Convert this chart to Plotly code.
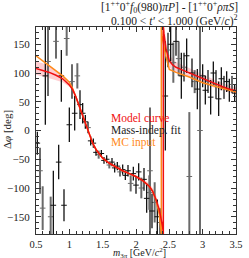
import plotly.graph_objects as go

# ---------------- data ----------------
# MC input curve
mc_m = [0.50, 0.60, 0.70, 0.80, 0.90, 1.00, 1.05, 1.10, 1.15, 1.20, 1.25, 1.30, 1.35, 1.40,
        1.50, 1.60, 1.70, 1.80, 1.90, 2.00, 2.10, 2.20, 2.25, 2.30, 2.35, 2.375, 2.38,
        2.38, 2.39, 2.45, 2.50, 2.60, 2.80, 3.00, 3.20, 3.50]
mc_v = [130, 121, 112, 104, 95, 84, 73, 58, 42, 25, 8, -8, -22, -33,
        -48, -57, -64, -70, -75, -80, -87, -97, -106, -121, -146, -170, -180,
        180, 165, 128, 106, 101, 93, 83, 77, 67]

# Model curve (two branches, wrapping at +-180)
mod_m1 = [0.50, 0.60, 0.70, 0.80, 0.90, 1.00, 1.05, 1.10, 1.15, 1.20, 1.25, 1.30, 1.35, 1.40,
          1.50, 1.60, 1.70, 1.80, 1.90, 2.00, 2.10, 2.20, 2.25, 2.30, 2.35, 2.38, 2.40, 2.41]
mod_v1 = [108, 105, 101, 96, 90, 79, 71, 58, 42, 25, 8, -8, -22, -33,
          -48, -57, -64, -70, -75, -80, -87, -97, -106, -120, -138, -153, -168, -180]
mod_lo1 = [97, 94, 91, 88, 84, 76, 69, 57, 41, 24, 7, -9, -23, -34,
           -49, -58, -65, -72, -77, -82, -90, -102, -112, -128, -148, -165, -182, -195]
mod_hi1 = [120, 117, 112, 105, 97, 83, 73, 59, 43, 26, 9, -7, -21, -32,
           -47, -56, -63, -68, -73, -78, -84, -92, -100, -112, -128, -141, -154, -165]

mod_m2 = [2.41, 2.42, 2.45, 2.48, 2.50, 2.55, 2.60, 2.70, 2.80, 2.90, 3.00, 3.10, 3.20, 3.30, 3.40, 3.50]
mod_v2 = [180, 168, 142, 127, 121, 114, 110, 105, 100, 95, 90, 85, 80, 76, 72, 69]
mod_lo2 = [165, 153, 129, 115, 110, 104, 101, 96, 92, 87, 82, 78, 73, 69, 66, 63]
mod_hi2 = [195, 183, 156, 139, 132, 124, 119, 114, 108, 103, 98, 92, 87, 83, 78, 75]

# Mass-independent fit points: mass, phase, error, shade (k = black, g = grey)
pt_m = [0.52, 0.56, 0.60, 0.64, 0.68, 0.72, 0.76, 0.80, 0.84, 0.88, 0.92, 0.96, 1.00, 1.04,
        1.08, 1.12, 1.16, 1.20, 1.24, 1.28, 1.32, 1.36, 1.40, 1.44, 1.48, 1.52, 1.56, 1.60,
        1.64, 1.68, 1.72, 1.76, 1.80, 1.84, 1.88, 1.92, 1.96, 2.00, 2.04, 2.08, 2.12, 2.16,
        2.20, 2.21, 2.24, 2.28, 2.32, 2.36, 2.44, 2.48, 2.52, 2.56, 2.60, 2.64, 2.68, 2.72,
        2.76, 2.80, 2.84, 2.88, 2.92, 2.96, 3.00, 3.04, 3.08, 3.12, 3.16, 3.20, 3.24, 3.28,
        3.32, 3.36, 3.40, 3.44, 3.48]
pt_v = [-22, -70, -135, 95, 120, -150, -130, 155, -55, 95, -130, 160, 10, 85,
        30, 95, 45, 30, 15, 5, -18, -22, -38, -42, -40, -52, -50, -60,
        -55, -65, -62, -72, -68, -78, -70, -92, -75, -95, -72, -100, -85, -118,
        -108, -70, -140, -125, -150, -160, 60, 140, 150, 118, 155, 125, 95, 110,
        130, -80, 100, 85, 72, 0, 95, 70, 85, 58, 100, 80, 55, 90,
        75, 85, 70, 80, 65]
pt_e = [20, 40, 38, 85, 60, 35, 60, 30, 30, 45, 28, 30, 30, 30,
        30, 22, 25, 18, 12, 10, 8, 8, 6, 7, 6, 6, 7, 6,
        7, 8, 7, 8, 9, 8, 10, 14, 12, 15, 15, 18, 20, 25,
        30, 110, 30, 35, 30, 25, 95, 30, 30, 35, 25, 30, 40, 25,
        30, 112, 25, 20, 35, 180, 20, 25, 20, 30, 20, 25, 30, 20,
        20, 18, 20, 15, 15]
pt_c = ["k", "g", "g", "k", "g", "g", "k", "g", "k", "k", "k", "g", "k", "g",
        "k", "g", "k", "k", "k", "g", "k", "k", "k", "g", "k", "k", "k", "g",
        "k", "k", "k", "g", "k", "k", "k", "g", "k", "k", "k", "g", "k", "k",
        "g", "g", "k", "g", "k", "g", "k", "g", "k", "g", "k", "g", "k", "g",
        "k", "g", "k", "g", "k", "g", "k", "k", "g", "k", "k", "g", "k", "k",
        "g", "k", "k", "g", "k"]

x_ticks = [0.5, 1, 1.5, 2, 2.5, 3, 3.5]
x_tick_text = ["0.5", "1", "1.5", "2", "2.5", "3", "3.5"]
y_ticks = [-150, -100, -50, 0, 50, 100, 150]
y_tick_text = ["\u2212150", "\u2212100", "\u221250", "0", "50", "100", "150"]

# ---------------- figure ----------------
RED = "#f01010"
ORANGE = "#ff8a1a"
SERIF = "Liberation Serif, DejaVu Serif, serif"

fig = go.Figure()

# model band (two branches)
fig.add_trace(go.Scatter(x=mod_m1 + mod_m1[::-1], y=mod_hi1 + mod_lo1[::-1], fill="toself",
                         fillcolor="rgba(255,80,90,0.28)", line=dict(width=0), mode="lines",
                         hoverinfo="skip", showlegend=False))
fig.add_trace(go.Scatter(x=mod_m2 + mod_m2[::-1], y=mod_hi2 + mod_lo2[::-1], fill="toself",
                         fillcolor="rgba(255,80,90,0.28)", line=dict(width=0), mode="lines",
                         hoverinfo="skip", showlegend=False))

# data points
for shade, col, lw in [("g", "#6a6a6a", 2.0), ("k", "#111111", 1.3)]:
    xs = [m for m, c in zip(pt_m, pt_c) if c == shade]
    ys = [v for v, c in zip(pt_v, pt_c) if c == shade]
    es = [e for e, c in zip(pt_e, pt_c) if c == shade]
    fig.add_trace(go.Scatter(x=xs, y=ys, mode="markers",
                             marker=dict(symbol="line-ew", size=4, color=col,
                                         line=dict(width=1, color=col)),
                             error_y=dict(type="data", array=es, visible=True, width=0,
                                          thickness=lw, color=col),
                             showlegend=False))

# MC input
fig.add_trace(go.Scatter(x=mc_m, y=mc_v, mode="lines",
                         line=dict(color=ORANGE, width=1.5), showlegend=False))
# Model curve
fig.add_trace(go.Scatter(x=mod_m1 + mod_m2, y=mod_v1 + mod_v2, mode="lines",
                         line=dict(color=RED, width=1.5), showlegend=False))

axis_common = dict(ticks="inside", showgrid=False, zeroline=False, showline=True,
                   linecolor="#333333", linewidth=1, mirror="ticks", tickcolor="#333333",
                   ticklen=5, ticklabeloverflow="allow")

fig.update_xaxes(range=[0.4999, 3.5001], tickvals=x_ticks, ticktext=x_tick_text,
                 tickfont=dict(family=SERIF, size=10.5, color="#222222"),
                 minor=dict(ticks="inside", ticklen=3, dtick=0.1, tickcolor="#333333"),
                 **axis_common)
fig.update_yaxes(range=[-180, 180], tickvals=y_ticks, ticktext=y_tick_text,
                 ticklabelstandoff=3,
                 tickfont=dict(family=SERIF, size=11, color="#222222"),
                 minor=dict(ticks="inside", ticklen=3, dtick=10, tickcolor="#333333"),
                 **axis_common)

annos = [
    dict(x=247, y=7, text="[1<sup>++</sup>0<sup>+</sup><i>f</i><sub>0</sub>(980)<i>πP</i>] - [1<sup>++</sup>0<sup>+</sup><i>ρπS</i>]",
         xanchor="right", font=dict(size=11.5)),
    dict(x=247, y=20.5, text="0.100 &lt; <i>t'</i> &lt; 1.000 (GeV/<i>c</i>)<sup>2</sup>",
         xanchor="right", font=dict(size=11.5)),
    dict(x=112, y=118, text="Model curve", xanchor="left", font=dict(size=11.5, color=RED)),
    dict(x=112, y=130, text="Mass-indep. fit", xanchor="left", font=dict(size=11.5, color="#222222")),
    dict(x=112, y=142, text="MC input", xanchor="left", font=dict(size=11.5, color=ORANGE)),
    dict(x=143, y=252.5, text="<i>m</i><sub>3<i>π</i></sub> [GeV/<i>c</i><sup>2</sup>]",
         xanchor="center", font=dict(size=10)),
    dict(x=6, y=130, text="Δ<i>φ</i> [deg]", textangle=-90, xanchor="center",
         font=dict(size=11)),
]
for a in annos:
    fnt = dict(family=SERIF, color="#222222")
    fnt.update(a.pop("font"))
    fig.add_annotation(xref="paper", yref="paper", showarrow=False, yanchor="middle",
                       font=fnt, **a)

# convert pixel positions for annotations to paper coords
W, H = 249, 258
ML, MR, MT, MB = 36, 6, 27, 24
pw, ph = W - ML - MR, H - MT - MB
for ann in fig.layout.annotations:
    px, py = ann.x, ann.y
    ann.x = (px - ML) / pw
    ann.y = 1 - (py - MT) / ph

fig.update_layout(width=W, height=H, margin=dict(l=ML, r=MR, t=MT, b=MB, pad=0),
                  plot_bgcolor="white", paper_bgcolor="white", showlegend=False)

fig.write_html("out.html", config={"displayModeBar": False, "staticPlot": True},
               post_script="document.body.style.margin='0';document.body.style.overflow='hidden';")
